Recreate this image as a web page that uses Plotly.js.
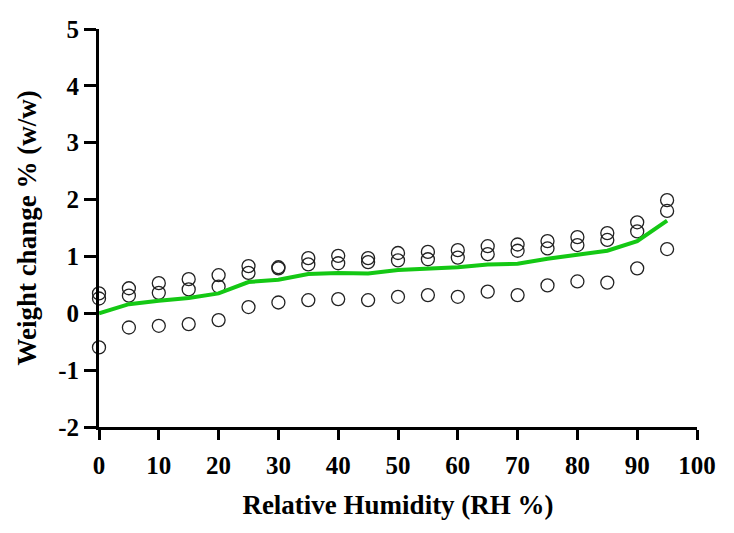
<!DOCTYPE html>
<html>
<head>
<meta charset="utf-8">
<script src="https://cdn.plot.ly/plotly-3.0.1.min.js"></script>
<style>body{margin:0;background:#fff}#chart{width:734px;height:533px}</style>
</head>
<body>
<div id="chart"></div>
<script>
var rh = [0,5,10,15,20,25,30,35,40,45,50,55,60,65,70,75,80,85,90,95];
var rep1 = [0.35,0.44,0.53,0.60,0.67,0.83,0.81,0.97,1.01,0.97,1.06,1.08,1.11,1.18,1.21,1.27,1.34,1.41,1.60,1.99];
var rep2 = [0.26,0.31,0.36,0.42,0.47,0.71,0.79,0.86,0.88,0.90,0.93,0.95,0.98,1.04,1.10,1.14,1.20,1.29,1.44,1.80];
var rep3 = [-0.60,-0.25,-0.22,-0.19,-0.12,0.11,0.19,0.23,0.25,0.23,0.29,0.32,0.29,0.38,0.32,0.49,0.56,0.54,0.79,1.13];
var mean = [0,0.16,0.22,0.27,0.35,0.55,0.59,0.69,0.71,0.70,0.76,0.79,0.81,0.86,0.87,0.96,1.03,1.10,1.27,1.63];

var xticks = [0,10,20,30,40,50,60,70,80,90,100];
var yticks = [-2,-1,0,1,2,3,4,5];
var yticklabels = ['-2','-1','0','1','2','3','4','5'];

var circle = {symbol: 'circle-open', size: 13, color: '#222', line: {width: 1.3}};
function reps(y) {
  return {x: rh, y: y, mode: 'markers', marker: circle, cliponaxis: false, hoverinfo: 'skip'};
}

var data = [
  reps(rep1), reps(rep2), reps(rep3),
  {x: rh, y: mean, mode: 'lines', line: {color: 'rgb(20,200,20)', width: 4}, cliponaxis: false}
];

var serif = '"Liberation Serif", "Times New Roman", Times, serif';
var tickfont = {family: serif, size: 25, color: '#000', weight: 'bold'};
var titlefont = {family: serif, size: 27, color: '#000', weight: 'bold'};
var layout = {
  width: 734, height: 533,
  margin: {l: 99, r: 37, t: 29, b: 106},
  showlegend: false,
  plot_bgcolor: '#fff', paper_bgcolor: '#fff',
  font: {family: serif, color: '#000'},
  xaxis: {
    range: [0, 100], tickvals: xticks,
    showgrid: false, zeroline: false, showline: true, linecolor: '#000', linewidth: 3,
    ticks: 'outside', ticklen: 10, tickwidth: 3, tickcolor: '#000',
    tickfont: tickfont, ticklabelstandoff: 4,
    title: {text: 'Relative Humidity (RH %)', font: titlefont, standoff: 18}
  },
  yaxis: {
    range: [-2, 5], tickvals: yticks, ticktext: yticklabels,
    showgrid: false, zeroline: false, showline: true, linecolor: '#000', linewidth: 3,
    ticks: 'outside', ticklen: 12, tickwidth: 3, tickcolor: '#000',
    tickfont: tickfont,
    title: {text: 'Weight change % (w/w)', font: titlefont, standoff: 14}
  }
};

Plotly.newPlot('chart', data, layout, {displayModeBar: false, staticPlot: true});
</script>
</body>
</html>
